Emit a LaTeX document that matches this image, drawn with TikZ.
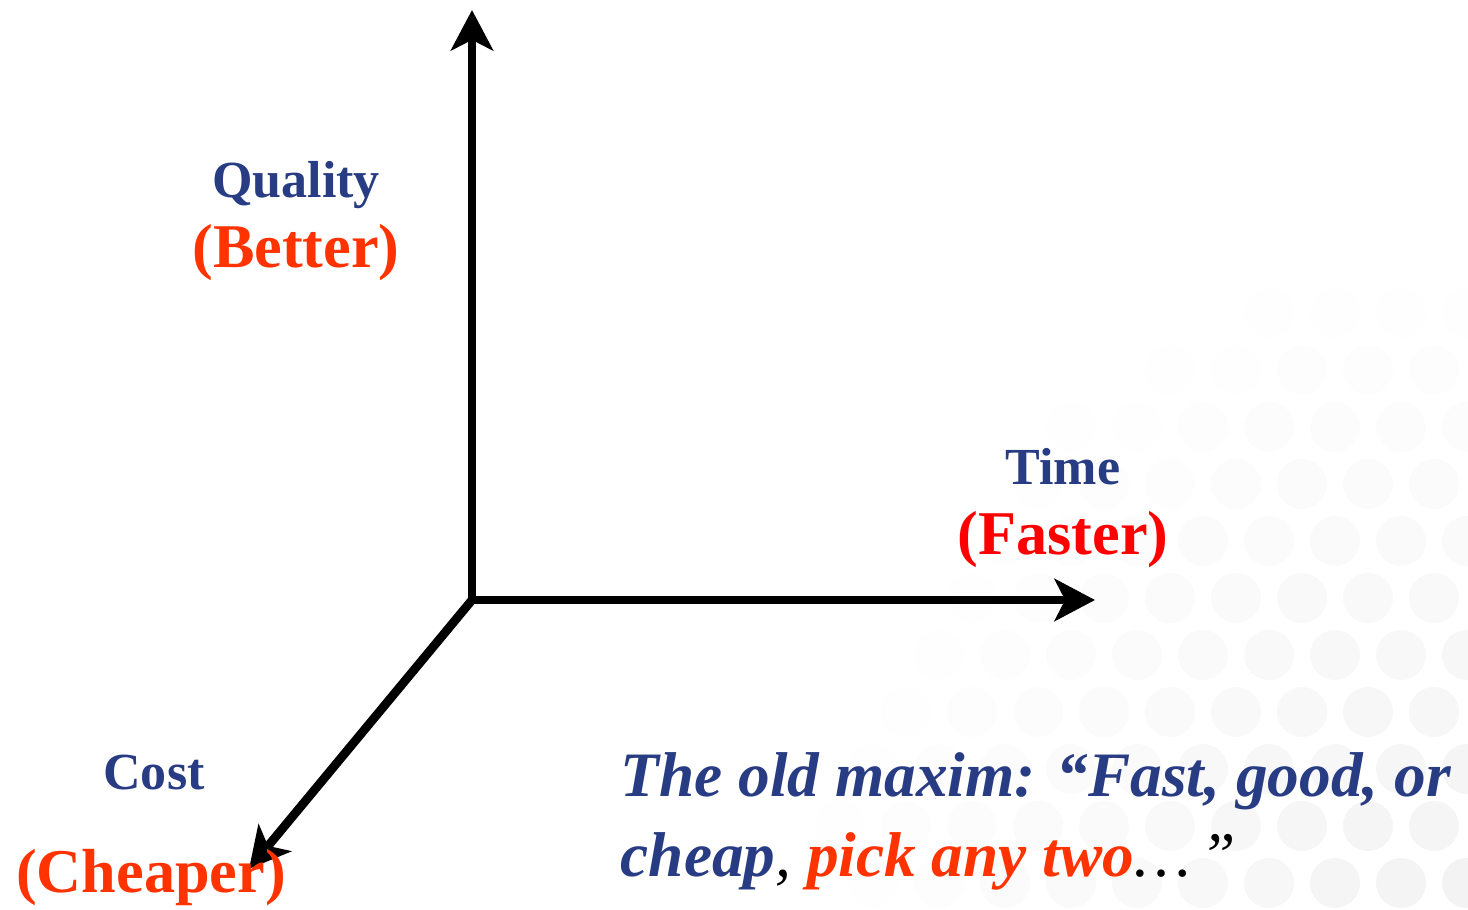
\documentclass[tikz,border=0pt]{standalone}
\usepackage{fontspec}
\setmainfont{Liberation Serif}
\usetikzlibrary{arrows.meta}
\definecolor{navy}{RGB}{40,60,132}
\definecolor{orangered}{RGB}{255,51,0}
\definecolor{purered}{RGB}{255,0,0}
\tikzset{
  axisline/.style={line width=2.5pt, ->},
  axislabel/.style={font=\fontsize{14.8}{18}\selectfont\bfseries, text=navy, anchor=base, inner sep=0pt},
  sublabel/.style={font=\fontsize{17.7}{21}\selectfont\bfseries, text=orangered, anchor=base, inner sep=0pt},
  maximtext/.style={font=\fontsize{18}{22.7}\selectfont\bfseries\itshape, text=navy, anchor=base west, inner sep=0pt},
}

\begin{document}
\begin{tikzpicture}[x=0.01cm, y=-0.01cm, >={Stealth[length=11.5pt,width=12pt,inset=3pt]}]
  \useasboundingbox (0,0) rectangle (1468,910);

  % faint dots in the lower right corner
  \begin{scope}
    \clip (0,0) rectangle (1468,910);
    \foreach \r in {0,...,14} {
      \foreach \c in {0,...,12} {
        \pgfmathsetmacro{\px}{1500 - \c*66 - mod(\r,2)*33}
        \pgfmathsetmacro{\py}{940 - \r*57}
        \pgfmathsetmacro{\op}{max(0, 1 - veclen(1500-\px, 940-\py)/700)*0.05}
        \fill[black, opacity=\op] (\px,\py) circle[radius=0.25cm];
      }
    }
  \end{scope}

  % axes
  \coordinate (O) at (472,600);
  \coordinate (qtip) at (472,10);
  \coordinate (ttip) at (1095,600);
  \coordinate (ctip) at (249,869);
  \draw[axisline] (O) -- (qtip);
  \draw[axisline] (O) -- (ttip);
  \draw[axisline] (O) -- (ctip);

  % labels
  \node[axislabel] (quality) at (296,198) {Quality};
  \node[sublabel] (better) at (296,268) {(Better)};
  \node[axislabel] (time) at (1063,485) {Time};
  \node[sublabel, text=purered] (faster) at (1063,555) {(Faster)};
  \node[axislabel] (cost) at (154,790) {Cost};
  \node[sublabel] (cheaper) at (151,893) {(Cheaper)};

  \node[maximtext] (maxim) at (620,797) {The old maxim: “Fast, good, or};
  \node[maximtext] (maxim2) at (620,877)
    {cheap{\color{black}\mdseries,} {\color{orangered}pick any two}{\color{black}\mdseries\ldots\,”}};
\end{tikzpicture}
\end{document}
